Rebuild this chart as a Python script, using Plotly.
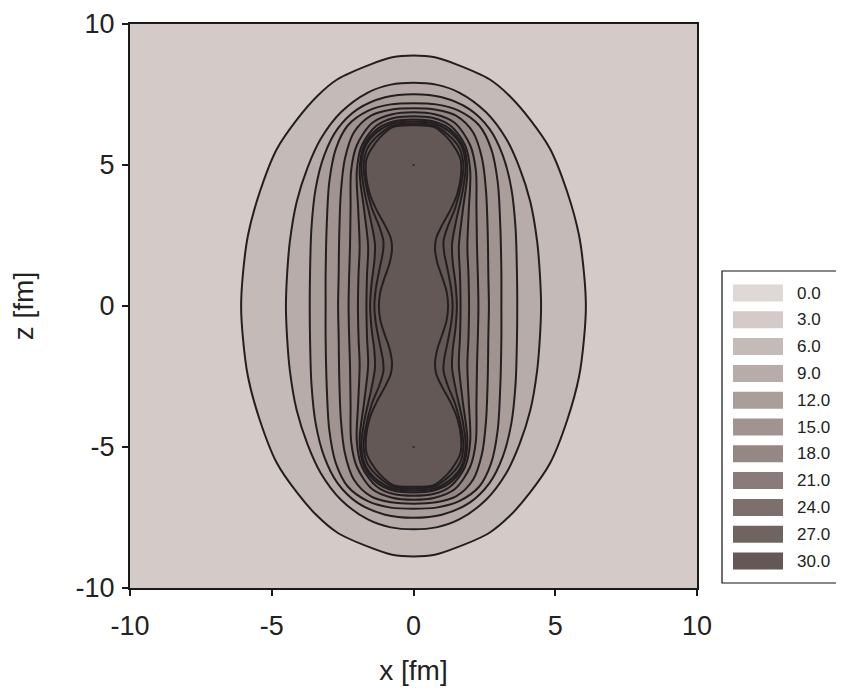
import plotly.graph_objects as go

# ---- data (upper-right quadrant of each contour line; x, z in fm) ----
c1_x = [6.08, 6.02, 5.84, 5.42, 4.82, 4.1, 3.39, 2.68, 1.51, 0.75, 0.0]
c1_z = [0.0, 1.1, 2.5, 4.05, 5.57, 6.63, 7.45, 8.04, 8.57, 8.82, 8.88]

c2_x = [4.5, 4.46, 4.36, 4.12, 3.74, 3.27, 2.56, 1.61, 0.8, 0.0]
c2_z = [0.0, 1.1, 2.3, 3.7, 4.9, 5.93, 6.87, 7.57, 7.85, 7.92]

c3_x = [3.66, 3.65, 3.6, 3.45, 3.15, 2.68, 1.97, 1.0, 0.0]
c3_z = [0.0, 1.12, 2.76, 4.17, 5.34, 6.28, 6.98, 7.4, 7.51]

c4_x = [3.1, 3.1, 3.06, 2.97, 2.74, 2.32, 1.61, 0.8, 0.0]
c4_z = [0.0, 1.1, 2.88, 4.4, 5.57, 6.4, 6.92, 7.15, 7.19]

c5_x = [2.66, 2.64, 2.62, 2.56, 2.42, 2.1, 1.5, 0.8, 0.0]
c5_z = [0.0, 1.1, 2.5, 4.05, 5.22, 6.16, 6.75, 6.96, 7.01]

c6_x = [2.29, 2.27, 2.24, 2.22, 2.2, 2.0, 1.45, 0.75, 0.0]
c6_z = [0.0, 1.1, 2.1, 3.5, 4.8, 5.7, 6.5, 6.8, 6.87]

c7_x = [1.96, 1.94, 1.9, 1.95, 2.0, 1.82, 1.3, 0.7, 0.0]
c7_z = [0.0, 1.1, 2.1, 3.4, 4.8, 5.7, 6.4, 6.67, 6.73]

c8_x = [1.66, 1.64, 1.6, 1.74, 1.9, 1.74, 1.25, 0.68, 0.0]
c8_z = [0.0, 1.1, 2.1, 3.4, 4.8, 5.7, 6.3, 6.55, 6.61]

c9_x = [1.53, 1.48, 1.38, 1.36, 1.5, 1.74, 1.84, 1.68, 1.25, 0.7, 0.0]
c9_z = [0.0, 0.8, 1.6, 2.2, 3.0, 4.1, 5.0, 5.7, 6.2, 6.48, 6.54]

c10_x = [1.38, 1.33, 1.2, 1.08, 1.06, 1.2, 1.48, 1.7, 1.76, 1.62, 1.22, 0.72, 0.0]
c10_z = [0.0, 0.6, 1.3, 1.9, 2.3, 2.8, 3.5, 4.4, 5.0, 5.6, 6.07, 6.4, 6.47]

c11_x = [1.22, 1.17, 1.02, 0.85, 0.76, 0.8, 1.0, 1.3, 1.55, 1.68, 1.66, 1.5, 1.18, 0.71, 0.0]
c11_z = [0.0, 0.5, 1.0, 1.5, 2.0, 2.4, 2.85, 3.4, 4.0, 4.7, 5.2, 5.55, 5.98, 6.35, 6.41]

centers_x = [0.0, 0.0]
centers_z = [5.0, -5.0]

legend_levels = [0.0, 3.0, 6.0, 9.0, 12.0, 15.0, 18.0, 21.0, 24.0, 27.0, 30.0]

x_ticks = [-10, -5, 0, 5, 10]
z_ticks = [-10, -5, 0, 5, 10]

# ---- styles ----
level_colors = ["#ded9d7", "#d4cbc9", "#c4bbb9", "#b7acaa", "#aa9e9b", "#a09390",
                "#948784", "#897b79", "#7c6f6c", "#706461", "#635856"]
band_color_index = [2, 3, 4, 5, 6, 7, 8, 9, 10, 10, 10]
line_color = "#231f20"
FONT = "Liberation Sans, Arial, sans-serif"

contours = [(c1_x, c1_z), (c2_x, c2_z), (c3_x, c3_z), (c4_x, c4_z), (c5_x, c5_z),
            (c6_x, c6_z), (c7_x, c7_z), (c8_x, c8_z), (c9_x, c9_z), (c10_x, c10_z),
            (c11_x, c11_z)]


def closed_curve(qx, qz):
    # mirror the upper-right quadrant into the full closed curve
    xs, zs = list(qx), list(qz)
    xs += [-v for v in qx[::-1][1:]]
    zs += list(qz[::-1][1:])
    xs += [-v for v in qx[1:]]
    zs += [-v for v in qz[1:]]
    xs += list(qx[::-1][1:])
    zs += [-v for v in qz[::-1][1:]]
    return xs, zs


fig = go.Figure()
for i, (qx, qz) in enumerate(contours):
    xs, zs = closed_curve(qx, qz)
    fig.add_trace(go.Scatter(
        x=xs, y=zs, mode="lines", fill="toself",
        fillcolor=level_colors[band_color_index[i]],
        line=dict(color=line_color, width=2, shape="spline", smoothing=0.9),
        hoverinfo="skip", showlegend=False))

fig.add_trace(go.Scatter(x=centers_x, y=centers_z, mode="markers",
                         marker=dict(size=2, color=line_color),
                         hoverinfo="skip", showlegend=False))

# ---- layout geometry (page pixels; the page body adds an 8px offset) ----
OFF = 8
W, H = 844 - OFF, 692 - OFF
L, R, T, B = 130 - OFF, 697 - OFF, 24 - OFF, 588 - OFF


def px_x(p):
    return (p - OFF - L) / (R - L)


def px_y(p):
    return (B - (p - OFF)) / (B - T)


shapes = [dict(type="rect", xref="paper", yref="paper",
               x0=px_x(722), x1=px_x(840), y0=px_y(583), y1=px_y(271),
               line=dict(color="#111111", width=1.2), fillcolor="white", layer="above")]
annotations = []
for k, lv in enumerate(legend_levels):
    cy = 293 + k * 26.8
    shapes.append(dict(type="rect", xref="paper", yref="paper",
                       x0=px_x(733), x1=px_x(783), y0=px_y(cy + 8.5), y1=px_y(cy - 8.5),
                       line=dict(width=0), fillcolor=level_colors[k], layer="above"))
    annotations.append(dict(xref="paper", yref="paper", x=px_x(795), y=px_y(cy),
                            text=f"{lv:.1f}", showarrow=False, xanchor="left", yanchor="middle",
                            font=dict(family=FONT, size=17, color="#222222")))

axis_common = dict(showgrid=False, zeroline=False, showline=True, linecolor="#1a1a1a",
                   linewidth=2, mirror=True, ticks="outside", ticklen=6, tickwidth=1.5,
                   tickcolor="#1a1a1a", automargin=False, ticklabeloverflow="allow",
                   tickfont=dict(family=FONT, size=27, color="#222222"))

fig.update_layout(
    width=W, height=H,
    margin=dict(l=L, r=W - R, t=T, b=H - B, pad=0, autoexpand=False),
    paper_bgcolor="white", plot_bgcolor=level_colors[1],
    xaxis=dict(range=[-10, 10], tickvals=x_ticks, ticktext=[str(v) for v in x_ticks],
               ticklabelstandoff=7,
               title=dict(text="x [fm]", font=dict(family=FONT, size=28, color="#222222"), standoff=20),
               **axis_common),
    yaxis=dict(range=[-10, 10], tickvals=z_ticks, ticktext=[str(v) for v in z_ticks],
               ticklabelstandoff=2,
               title=dict(text="z [fm]", font=dict(family=FONT, size=28, color="#222222"), standoff=37),
               **axis_common),
    shapes=shapes, annotations=annotations, showlegend=False,
)

fig.write_html("out.html")
